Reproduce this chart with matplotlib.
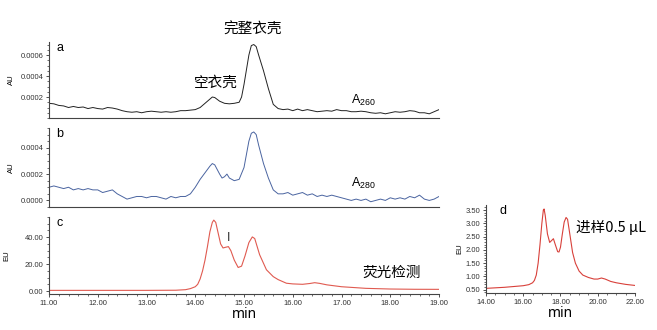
import numpy as np
import matplotlib.pyplot as plt
from matplotlib.ticker import MultipleLocator, FormatStrFormatter

# --- datos ---
t_a = [11.0, 11.1, 11.2, 11.3, 11.4, 11.5, 11.6, 11.7, 11.8, 11.9, 12.0, 12.1, 12.2, 12.3, 12.4,
       12.5, 12.6, 12.7, 12.8, 12.9, 13.0, 13.1, 13.2, 13.3, 13.4, 13.5, 13.6, 13.7, 13.8, 13.9,
       14.0, 14.1, 14.2, 14.3, 14.35, 14.4, 14.5, 14.6, 14.7, 14.8, 14.9, 14.95, 15.0, 15.05,
       15.1, 15.15, 15.2, 15.25, 15.3, 15.4, 15.5, 15.6, 15.7, 15.8, 15.9, 16.0, 16.1, 16.2,
       16.3, 16.4, 16.5, 16.6, 16.7, 16.8, 16.9, 17.0, 17.1, 17.2, 17.3, 17.4, 17.5, 17.6, 17.7,
       17.8, 17.9, 18.0, 18.1, 18.2, 18.3, 18.4, 18.5, 18.6, 18.7, 18.8, 18.9, 19.0]
a260 = [0.00014, 0.000135, 0.00012, 0.000115, 0.0001, 0.00011, 0.0001, 0.000105, 0.00009, 0.0001,
        0.00009, 0.000085, 0.0001, 0.000095, 0.000085, 0.00007, 0.00006, 0.000055, 0.00006, 0.00005,
        0.00006, 0.000065, 0.00006, 0.000055, 0.00006, 0.000055, 0.00006, 0.00007, 0.00007, 0.000075,
        0.00008, 0.0001, 0.00014, 0.00018, 0.0002, 0.000195, 0.00016, 0.00014, 0.000135, 0.00014,
        0.00015, 0.0002, 0.00032, 0.00046, 0.0006, 0.00069, 0.0007, 0.00068, 0.0006, 0.00045,
        0.00028, 0.00013, 0.00009, 0.00008, 0.000085, 0.00007, 0.000085, 0.00007, 0.00008, 0.00007,
        0.00006, 0.000065, 0.00007, 0.000065, 0.00008, 0.00007, 0.00007, 0.00006, 0.00006, 0.000065,
        0.00006, 0.00005, 0.000045, 0.00005, 0.00004, 0.00005, 0.00006, 0.000055, 0.00006, 0.00007,
        0.000065, 0.00005, 0.00005, 0.00004, 0.00006, 0.00008]

t_b = [11.0, 11.1, 11.2, 11.3, 11.4, 11.5, 11.6, 11.7, 11.8, 11.9, 12.0, 12.1, 12.2, 12.3, 12.4,
       12.5, 12.6, 12.7, 12.8, 12.9, 13.0, 13.1, 13.2, 13.3, 13.4, 13.5, 13.6, 13.7, 13.8, 13.9,
       14.0, 14.1, 14.2, 14.3, 14.35, 14.4, 14.5, 14.55, 14.6, 14.65, 14.7, 14.8, 14.9, 15.0,
       15.05, 15.1, 15.15, 15.2, 15.25, 15.3, 15.4, 15.5, 15.6, 15.7, 15.8, 15.9, 16.0, 16.1,
       16.2, 16.3, 16.4, 16.5, 16.6, 16.7, 16.8, 16.9, 17.0, 17.1, 17.2, 17.3, 17.4, 17.5, 17.6,
       17.7, 17.8, 17.9, 18.0, 18.1, 18.2, 18.3, 18.4, 18.5, 18.6, 18.7, 18.8, 18.9, 19.0]
a280 = [0.0001, 0.00011, 0.0001, 0.00009, 0.0001, 0.00008, 0.00009, 0.00008, 0.00009, 0.00008,
        0.00008, 0.00006, 0.00007, 0.00008, 0.00005, 0.00003, 0.00001, 0.00002, 0.00003, 0.00003,
        0.00002, 0.00003, 0.00003, 0.00002, 0.00001, 0.00003, 0.00002, 0.00003, 0.00003, 0.00005,
        0.0001, 0.00016, 0.00021, 0.00026, 0.00028, 0.00027, 0.0002, 0.00017, 0.00018, 0.0002,
        0.00017, 0.00015, 0.00016, 0.00025, 0.00035, 0.00045, 0.00051, 0.00052, 0.0005, 0.00042,
        0.00028, 0.00017, 0.00008, 0.00005, 0.00005, 0.00006, 0.00004, 0.00005, 0.00006, 0.00004,
        0.00005, 0.00003, 0.00004, 0.00003, 0.00004, 0.00003, 0.00002, 0.00001, 0.0, 0.00001,
        0.0, 0.00001, -0.00001, 0.0, 0.00001, 0.0, 0.00002, 0.00001, 0.00002, 0.00001, 0.00003,
        0.00002, 0.00004, 0.00001, 0.0, 0.00001, 0.00003]

t_c = [11.0, 12.0, 13.0, 13.6, 13.8, 13.9, 14.0, 14.05, 14.1, 14.15, 14.2, 14.25, 14.3, 14.35,
       14.38, 14.42, 14.47, 14.52, 14.57, 14.62, 14.68, 14.73, 14.8, 14.88, 14.95, 15.02, 15.1,
       15.17, 15.22, 15.32, 15.46, 15.6, 15.7, 15.87, 16.0, 16.2, 16.35, 16.45, 16.55, 16.7,
       17.0, 17.5, 18.0, 18.5, 19.0]
fluo = [0.5, 0.5, 0.5, 0.6, 1.0, 1.8, 3.2, 5.0, 9.0, 15.0, 23.0, 33.0, 44.0, 51.0, 52.7, 51.0,
        43.0, 35.0, 32.0, 32.5, 33.0, 30.0, 23.0, 17.5, 18.5, 26.0, 36.0, 40.2, 39.0, 27.0, 15.8,
        10.7, 8.5, 5.8, 5.3, 5.0, 5.6, 6.2, 5.7, 4.6, 3.2, 2.0, 1.5, 1.3, 1.25]

t_d = [14.0, 14.5, 15.0, 15.5, 16.0, 16.3, 16.5, 16.6, 16.7, 16.8, 16.9, 17.0, 17.08, 17.12,
       17.18, 17.3, 17.42, 17.52, 17.62, 17.72, 17.85, 17.92, 18.0, 18.1, 18.2, 18.3, 18.38,
       18.5, 18.65, 18.8, 19.0, 19.2, 19.5, 19.8, 20.0, 20.2, 20.4, 20.7, 21.0, 21.5, 22.0]
fluo_d = [0.55, 0.57, 0.59, 0.62, 0.65, 0.69, 0.76, 0.85, 1.05, 1.5, 2.2, 3.0, 3.5, 3.54, 3.3,
          2.6, 2.28, 2.35, 2.42, 2.2, 1.93, 1.92, 2.1, 2.6, 3.05, 3.22, 3.15, 2.6, 1.9, 1.5, 1.2,
          1.05, 0.96, 0.9, 0.9, 0.94, 0.9, 0.81, 0.76, 0.7, 0.66]

CJK = ['Noto Sans CJK SC', 'DejaVu Sans']
plt.rcParams['font.family'] = ['Liberation Sans', 'DejaVu Sans']

fig = plt.figure(figsize=(6.57, 3.30), dpi=100)
ax_a = fig.add_axes([0.0746, 0.6424, 0.5936, 0.2303])
ax_b = fig.add_axes([0.0746, 0.3727, 0.5936, 0.2394])
ax_c = fig.add_axes([0.0746, 0.1091, 0.5936, 0.2333])
ax_d = fig.add_axes([0.7397, 0.1121, 0.2268, 0.2667])

def estilo(ax):
    for s in ['top', 'right']:
        ax.spines[s].set_visible(False)
    for s in ['left', 'bottom']:
        ax.spines[s].set_color('#444444')
        ax.spines[s].set_linewidth(0.8)
    ax.tick_params(labelsize=5.5, length=2.5, width=0.6, colors='#333333', pad=1.5)
    ax.tick_params(which='minor', length=1.5, width=0.5, colors='#333333')

ax_a.plot(t_a, a260, color='#222222', lw=0.7)
ax_a.set_xlim(11, 19)
ax_a.set_ylim(0, 0.000724)
ax_a.set_yticks([0.0002, 0.0004, 0.0006])
ax_a.yaxis.set_minor_locator(MultipleLocator(0.00005))
ax_a.yaxis.set_major_formatter(FormatStrFormatter('%.4f'))

ax_b.plot(t_b, a280, color='#4a64a0', lw=0.7)
ax_b.set_xlim(11, 19)
ax_b.set_ylim(-0.00005, 0.00055)
ax_b.set_yticks([0.0, 0.0002, 0.0004])
ax_b.yaxis.set_minor_locator(MultipleLocator(0.00005))
ax_b.yaxis.set_major_formatter(FormatStrFormatter('%.4f'))

for ax in (ax_a, ax_b):
    estilo(ax)
    ax.set_xticks([])
    ax.set_ylabel('AU', fontsize=5.5, labelpad=4)

ax_c.plot(t_c, fluo, color='#e05a50', lw=0.8)
ax_c.set_xlim(11, 19)
ax_c.set_ylim(-2.2, 55)
ax_c.set_yticks([0, 20, 40])
ax_c.yaxis.set_minor_locator(MultipleLocator(5))
ax_c.xaxis.set_minor_locator(MultipleLocator(0.2))
ax_c.yaxis.set_major_formatter(FormatStrFormatter('%.2f'))
ax_c.xaxis.set_major_formatter(FormatStrFormatter('%.2f'))
estilo(ax_c)
ax_c.set_ylabel('EU', fontsize=5.5, labelpad=10)
ax_c.set_xlabel('min', fontsize=10, family=['Noto Sans'], labelpad=0)

ax_d.plot(t_d, fluo_d, color='#d8403a', lw=0.8)
ax_d.set_xlim(14, 22)
ax_d.set_ylim(0.375, 3.69)
ax_d.set_yticks([0.5, 1.0, 1.5, 2.0, 2.5, 3.0, 3.5])
ax_d.set_xticks([14, 16, 18, 20, 22])
ax_d.yaxis.set_minor_locator(MultipleLocator(0.1))
ax_d.xaxis.set_minor_locator(MultipleLocator(0.5))
ax_d.yaxis.set_major_formatter(FormatStrFormatter('%.2f'))
ax_d.xaxis.set_major_formatter(FormatStrFormatter('%.2f'))
estilo(ax_d)
ax_d.set_ylabel('EU', fontsize=5.5, labelpad=2)
ax_d.set_xlabel('min', fontsize=10, family=['Noto Sans'], labelpad=0)

# etiquetas de panel
for ax, letra in [(ax_a, 'a'), (ax_b, 'b'), (ax_c, 'c')]:
    ax.text(11.15, 1.0, letra, transform=ax.get_xaxis_transform(), fontsize=9,
            va='top', ha='left')
ax_d.text(14.7, 1.0, 'd', transform=ax_d.get_xaxis_transform(), fontsize=9,
          va='top', ha='left')

# anotaciones
fig.text(253 / 657, 1 - 30 / 330, '完整衣壳', family=CJK, fontsize=10.5, ha='center', va='center')
fig.text(216 / 657, 1 - 83 / 330, '空衣壳', family=CJK, fontsize=10.5, ha='center', va='center')
fig.text(351 / 657, 1 - 100 / 330, r'$\mathregular{A_{260}}$', fontsize=9, ha='left', va='center')
fig.text(351 / 657, 1 - 183 / 330, r'$\mathregular{A_{280}}$', fontsize=9, ha='left', va='center')
fig.text(392 / 657, 1 - 273 / 330, '荧光检测', family=CJK, fontsize=10.5, ha='center', va='center')
fig.text(229 / 657, 1 - 238 / 330, 'I', family=['Liberation Sans'], fontsize=9, ha='center',
         va='center', color='#333333')
fig.text(611 / 657, 1 - 227 / 330, '进样0.5 μL', family=CJK, fontsize=10.5, ha='center', va='center')

fig.savefig('out.png', dpi=100)
